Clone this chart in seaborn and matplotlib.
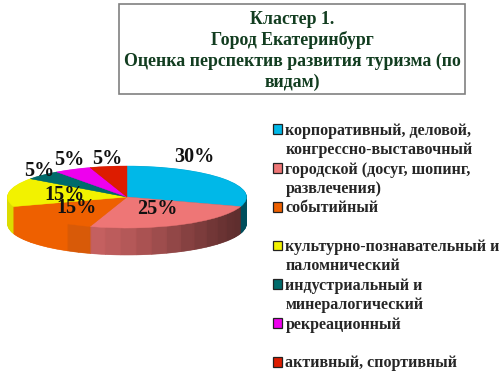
import numpy as np
import seaborn as sns
from matplotlib import pyplot as plt
from matplotlib.patches import Patch, Rectangle

title_lines = ["Кластер 1.", "Город Екатеринбург", "Оценка перспектив развития туризма (по", "видам)"]
categories = ["корпоративный, деловой,\nконгрессно-выставочный",
              "городской (досуг, шопинг,\nразвлечения)",
              "событийный\n",
              "культурно-познавательный и\nпаломнический",
              "индустриальный и\nминералогический",
              "рекреационный\n",
              "активный, спортивный"]
values = [30, 25, 15, 15, 5, 5, 5]
top_colors = ["#00B8E8", "#EE7676", "#EE6000", "#F2F200", "#006B6B", "#EE00EE", "#DD1C00"]

# wall shades per slice, as the pie runs clockwise
wall_shades = [["#004E5C"],
               ["#5F2E2E", "#633030", "#6A3333", "#723737", "#7C3C3C", "#864141", "#924747", "#9E4D4D", "#AA5252", "#B45858", "#BC5C5C", "#C46060"],
               ["#D85A08", "#D85A08"] + ["#EE6000"] * 7,
               ["#DCDC00"],
               ["#005050"],
               ["#B000B0"],
               ["#A01400"]]
pct_labels = ["30%", "25%", "15%", "15%", "5%", "5%", "5%"]
pct_pos_px = [(194, 157), (157, 209), (77, 208), (64, 195), (39, 171), (69, 160), (107, 159)]

W, H = 503, 380
CX, CY, RX, RY, DEPTH = 127, 197, 119.5, 31, 27


def px(x, y):
    return (x - CX) / RX, (CY - y) / RY


def draw_pie(ax):
    wall_vals = []
    wall_cols = []
    for v, shades in zip(values, wall_shades):
        wall_vals += [v / len(shades)] * len(shades)
        wall_cols += shades
    for d in np.arange(DEPTH, 0, -0.5):
        wedges, _ = ax.pie(wall_vals, colors=wall_cols, startangle=90, counterclock=False,
                           center=(0, -d / RY), radius=1, frame=True,
                           wedgeprops={"linewidth": 0.4})
        for w, c in zip(wedges, wall_cols):
            w.set_edgecolor(c)
    wedges, _ = ax.pie(values, colors=top_colors, startangle=90, counterclock=False,
                       center=(0, 0), radius=1, frame=True, wedgeprops={"linewidth": 0.3})
    for w, c in zip(wedges, top_colors):
        w.set_edgecolor(c)
    ax.set_aspect("auto")
    ax.set_xlim(px(0, 0)[0], px(W, 0)[0])
    ax.set_ylim(px(0, H)[1], px(0, 0)[1])
    ax.axis("off")


def draw_texts(fig, ax):
    for lab, (x, y) in zip(pct_labels, pct_pos_px):
        ax.text(*px(x, y), lab, ha="center", va="center", fontsize=14.5, fontweight="bold",
                color="#111111", family="Liberation Serif")

    fig.add_artist(Rectangle((119 / W, 1 - 94 / H), (465 - 119) / W, 90 / H, transform=fig.transFigure,
                             facecolor="white", edgecolor="#808080", linewidth=1.2))
    for line, y in zip(title_lines, [19, 40, 61, 82]):
        fig.text(292 / W, 1 - y / H, line, ha="center", va="center", fontsize=12.8, fontweight="bold",
                 color="#123D20", family="Liberation Serif")


def draw_legend(ax):
    handles = []
    labels = []
    for cat, col in zip(categories, top_colors):
        rows = cat.split("\n")
        handles.append(Patch(facecolor=col, edgecolor="#222222", linewidth=0.9))
        labels.append(rows[0])
        for row in rows[1:]:
            handles.append(Patch(facecolor="none", edgecolor="none"))
            labels.append(row if row else " ")
    leg = ax.legend(handles, labels, loc="upper left", bbox_to_anchor=(273 / W, 1 - 123 / H),
                    bbox_transform=plt.gcf().transFigure, frameon=False, handlelength=0.58,
                    handleheight=0.58, handletextpad=0.2, labelspacing=0.21, borderpad=0, borderaxespad=0,
                    prop={"family": "Liberation Serif", "weight": "bold", "size": 11.5})
    return leg


def main():
    sns.set_theme(style="white")
    plt.rcParams["font.family"] = ["Liberation Serif", "DejaVu Sans"]
    fig = plt.figure(figsize=(W / 100, H / 100), dpi=100)
    ax = fig.add_axes([0, 0, 1, 1])
    draw_pie(ax)
    draw_texts(fig, ax)
    draw_legend(ax)
    fig.savefig("out.png", dpi=100)


main()
